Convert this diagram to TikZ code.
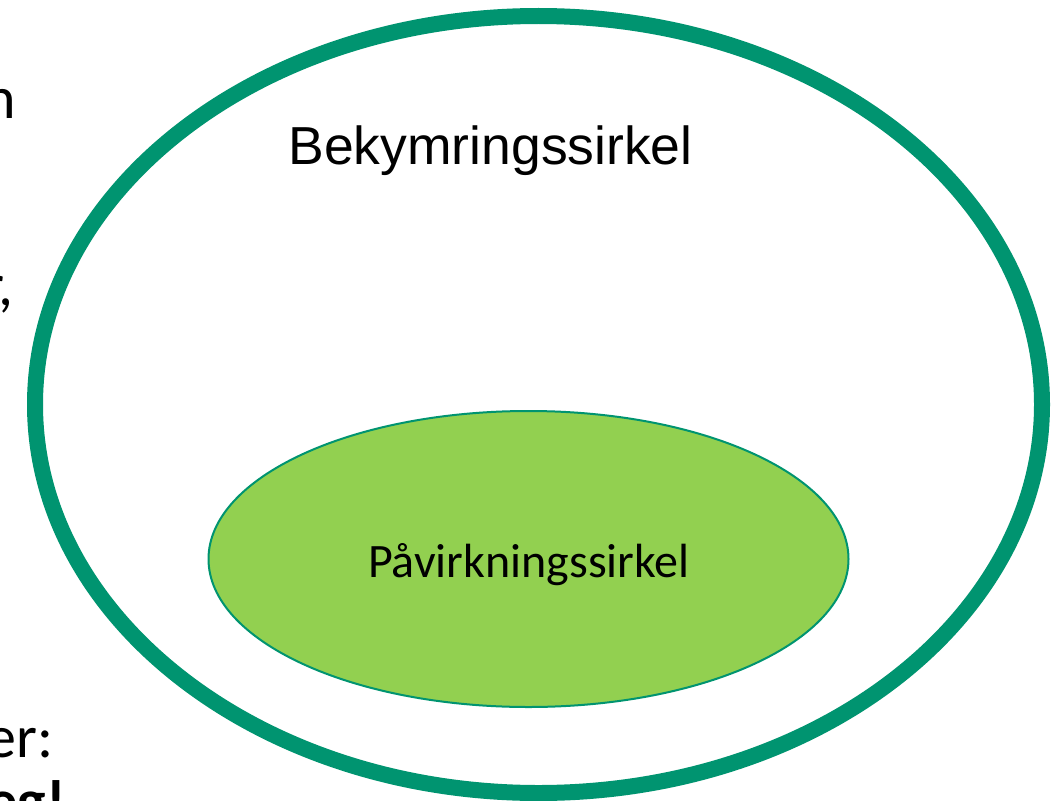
\documentclass[tikz,border=0pt]{standalone}
\usepackage{fontspec}
\usetikzlibrary{shapes.geometric}
\setmainfont{Carlito}
\newfontfamily\arialfont{Liberation Sans}
\definecolor{ringgreen}{HTML}{009470}
\definecolor{leafgreen}{HTML}{92D050}
\begin{document}
\begin{tikzpicture}[x=1pt,y=-1pt,
  ring/.style={ellipse, draw=ringgreen, line width=16pt, inner sep=0pt},
  leaf/.style={ellipse, draw=ringgreen, fill=leafgreen, line width=2pt, inner sep=0pt},
  edgetext/.style={anchor=base east, inner sep=0pt, font=\fontsize{60}{72}\selectfont}]
\useasboundingbox (0,0) rectangle (1054,800);
\clip (0,0) rectangle (1054,800);
\fill[white] (0,0) rectangle (1054,800);

% text cut off at the left edge
\node[edgetext] (frag1) at (16,118) {n};
\node[edgetext] (frag2) at (14,305) {r,};
\node[edgetext] (frag3) at (54,757) {er:};
\node[edgetext, font=\fontsize{60}{72}\selectfont\bfseries] (frag4) at (66,821) {eg!};

% concern circle and influence circle
\node[ring, minimum width=1007pt, minimum height=777pt] (concern) at (538.5,404.5) {};
\node[leaf, minimum width=640pt, minimum height=296pt] (influence) at (528.5,559) {};

\node[anchor=base, inner sep=0pt, font=\arialfont\fontsize{53.5}{64}\selectfont] (concernlabel) at (490.5,164) {Bekymringssirkel};
\node[anchor=base, inner sep=0pt, font=\fontsize{48}{58}\selectfont] (influencelabel) at (529,577) {Påvirkningssirkel};
\end{tikzpicture}
\end{document}
